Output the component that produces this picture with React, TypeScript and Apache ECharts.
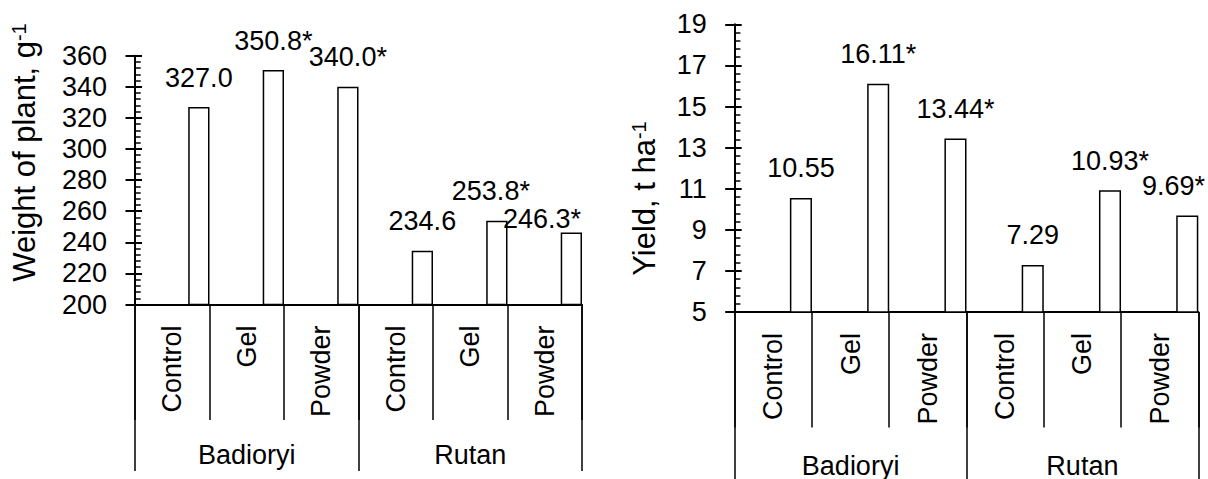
import React, { useEffect, useRef } from "react";
import * as echarts from "echarts";

const treatments = ["Control", "Gel", "Powder", "Control", "Gel", "Powder"];
const cultivars = ["Badioryi", "Rutan"];

const weightValues = [327.0, 350.8, 340.0, 234.6, 253.8, 246.3];
const weightMarks = ["", "*", "*", "", "*", "*"];
const weightTicks = [200, 360, 20]; // min, max, interval

const yieldValues = [10.55, 16.11, 13.44, 7.29, 10.93, 9.69];
const yieldMarks = ["", "*", "*", "", "*", "*"];
const yieldTicks = [5, 19, 2]; // min, max, interval

const FONT = "'Liberation Sans', Arial, Helvetica, sans-serif";
const BLACK = "#000";

function buildOption() {
  const panels = [
    {
      grid: { left: 135, top: 55.7, width: 447, height: 248.8 },
      ticks: weightTicks,
      values: weightValues,
      marks: weightMarks,
      digits: 1,
      catMargin: 21,
      groupMargin: 137,
      groupTick: 166.5,
      labelLimit: 581,
      nudge: [[0, 0], [0, 0], [0, 0], [0, 0], [-6, 0], [0, 15.5]],
    },
    {
      grid: { left: 734.7, top: 24.3, width: 463.6, height: 291.7 },
      ticks: yieldTicks,
      values: yieldValues,
      marks: yieldMarks,
      digits: 2,
      catMargin: 21,
      groupMargin: 140,
      groupTick: 175,
      labelLimit: 1205,
      nudge: [[0, 0], [0, 0], [0, 0], [0, 0], [0, 0], [0, 0]],
    },
  ];

  const grid: any[] = [];
  const xAxis: any[] = [];
  const yAxis: any[] = [];
  const series: any[] = [];

  panels.forEach((p, i) => {
    grid.push({ ...p.grid, containLabel: false });
    xAxis.push({
      type: "category",
      gridIndex: i,
      data: treatments,
      position: "bottom",
      axisLine: { show: true, lineStyle: { color: BLACK, width: 2 } },
      axisTick: {
        show: true,
        interval: 0,
        length: 115.5,
        lineStyle: { color: BLACK, width: 1.5 },
      },
      axisLabel: {
        interval: 0,
        rotate: 90,
        margin: p.catMargin,
        fontSize: 27,
        color: BLACK,
        fontFamily: FONT,
      },
      splitLine: { show: false },
    });
    xAxis.push({
      type: "category",
      gridIndex: i,
      data: cultivars,
      position: "bottom",
      axisLine: { show: false },
      axisTick: {
        show: true,
        interval: 0,
        length: p.groupTick,
        lineStyle: { color: BLACK, width: 1.5 },
      },
      axisLabel: {
        interval: 0,
        margin: p.groupMargin,
        fontSize: 27,
        color: BLACK,
        fontFamily: FONT,
      },
      splitLine: { show: false },
    });
    yAxis.push({
      type: "value",
      gridIndex: i,
      min: p.ticks[0],
      max: p.ticks[1],
      interval: p.ticks[2],
      position: "left",
      axisLine: { show: true, lineStyle: { color: BLACK, width: 2 } },
      axisTick: {
        show: true,
        inside: true,
        length: 7,
        lineStyle: { color: BLACK, width: 2 },
      },
      minorTick: {
        show: true,
        splitNumber: 5,
        length: 5.7,
        lineStyle: { color: BLACK, width: 1.5 },
      },
      axisLabel: {
        margin: 28,
        fontSize: 27,
        color: BLACK,
        fontFamily: FONT,
      },
      splitLine: { show: false },
      minorSplitLine: { show: false },
    });
    yAxis.push({
      type: "value",
      gridIndex: i,
      min: p.ticks[0],
      max: p.ticks[1],
      interval: p.ticks[2],
      position: "left",
      offset: 0,
      axisLine: { show: false },
      axisTick: {
        show: true,
        inside: false,
        length: 9.5,
        lineStyle: { color: BLACK, width: 2 },
      },
      axisLabel: { show: false },
      splitLine: { show: false },
    });
    series.push({
      type: "bar",
      name: "spacer" + i,
      xAxisIndex: i * 2,
      yAxisIndex: i * 2,
      data: [],
      barGap: "150%",
      barCategoryGap: "0%",
    });
    series.push({
      type: "bar",
      name: "values" + i,
      xAxisIndex: i * 2,
      yAxisIndex: i * 2,
      data: p.values,
      barGap: "150%",
      barCategoryGap: "0%",
      itemStyle: { color: "#fff", borderColor: BLACK, borderWidth: 1.5 },
      label: {
        show: true,
        position: "top",
        distance: 16,
        fontSize: 27,
        color: BLACK,
        fontFamily: FONT,
        formatter: (q: any) =>
          p.values[q.dataIndex].toFixed(p.digits) + p.marks[q.dataIndex],
      },
      labelLayout: (params: any) => {
        const r = params.labelRect;
        const n = p.nudge[params.dataIndex] || [0, 0];
        const over = r.x + n[0] + r.width - p.labelLimit;
        return { dx: n[0] - (over > 0 ? over : 0), dy: n[1] };
      },
    });
  });

  const titleRich = {
    m: { fontSize: 31, fontFamily: FONT, fill: BLACK, color: BLACK },
    s: {
      fontSize: 20,
      fontFamily: FONT,
      fill: BLACK,
      color: BLACK,
      verticalAlign: "top",
    },
  };

  const graphic = [
    {
      type: "text",
      x: 24.3,
      y: 152.5,
      rotation: Math.PI / 2,
      style: {
        text: "{m|Weight of plant, g}{s|-1}",
        rich: titleRich,
        align: "center",
        verticalAlign: "middle",
        fill: BLACK,
        font: `31px ${FONT}`,
      },
    },
    {
      type: "text",
      x: 644,
      y: 198.5,
      rotation: Math.PI / 2,
      style: {
        text: "{m|Yield, t ha}{s|-1}",
        rich: titleRich,
        align: "center",
        verticalAlign: "middle",
        fill: BLACK,
        font: `31px ${FONT}`,
      },
    },
  ];

  return {
    animation: false,
    backgroundColor: "#fff",
    textStyle: { fontFamily: FONT },
    grid,
    xAxis,
    yAxis,
    series,
    graphic,
  };
}

export default function App() {
  const ref = useRef<HTMLDivElement>(null);
  useEffect(() => {
    if (!ref.current) return;
    const chart = echarts.init(ref.current, undefined, { renderer: "svg" });
    chart.setOption(buildOption() as any);
    return () => chart.dispose();
  }, []);
  return (
    <div
      ref={ref}
      style={{
        position: "fixed",
        left: 0,
        top: 0,
        width: 1208,
        height: 479,
        background: "#fff",
      }}
    />
  );
}
